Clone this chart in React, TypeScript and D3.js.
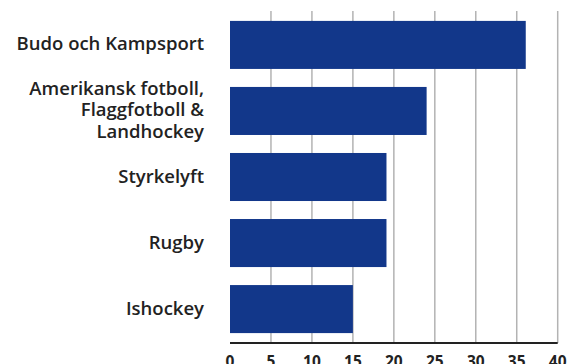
import React from "react";
import * as d3 from "d3";

const categories: string[][] = [
  ["Budo och Kampsport"],
  ["Amerikansk fotboll,", "Flaggfotboll &", "Landhockey"],
  ["Styrkelyft"],
  ["Rugby"],
  ["Ishockey"],
];
const values: number[] = [36.1, 24.0, 19.1, 19.1, 15.0];
const tickValues: number[] = [0, 5, 10, 15, 20, 25, 30, 35, 40];

const W = 581;
const H = 364;
const FONT = "'Open Sans', 'DejaVu Sans', sans-serif";

export default function App() {
  const x = d3.scaleLinear().domain([0, 40]).range([230, 557.7]);
  const keys = categories.map((_, i) => String(i));
  const y = d3
    .scaleBand<string>()
    .domain(keys)
    .range([11, 343])
    .paddingInner(18 / 66)
    .paddingOuter(0.15);

  return (
    <svg
      width={W}
      height={H}
      style={{ position: "absolute", left: 0, top: 0, background: "#fff" }}
      fontFamily={FONT}
    >
      {/* vertical gridlines */}
      {tickValues
        .filter((t) => t > 0)
        .map((t) => (
          <line
            key={"g" + t}
            x1={x(t)}
            x2={x(t)}
            y1={11}
            y2={343}
            stroke="#b3b3b3"
            strokeWidth={1.5}
          />
        ))}
      {/* bars */}
      {values.map((v, i) => (
        <rect
          key={"b" + i}
          x={x(0)}
          y={y(keys[i])!}
          width={x(v) - x(0)}
          height={y.bandwidth()}
          fill="#12378A"
        />
      ))}
      {/* category labels, one text per line */}
      {categories.map((lines, i) => {
        const cy = y(keys[i])! + y.bandwidth() / 2;
        const lh = 21.5;
        const first = cy - ((lines.length - 1) * lh) / 2;
        return lines.map((ln, j) => (
          <text
            key={"l" + i + "-" + j}
            x={204}
            y={first + j * lh + 5.5}
            textAnchor="end"
            fontSize={18.5}
            fontWeight={600}
            fill="#222"
          >
            {ln}
          </text>
        ));
      })}
      {/* x axis */}
      <line x1={x(0)} x2={x(40)} y1={343} y2={343} stroke="#222" strokeWidth={2} />
      {tickValues.map((t) => (
        <text
          key={"t" + t}
          x={x(t)}
          y={367}
          textAnchor="middle"
          fontSize={15.5}
          fontWeight={700}
          fill="#222"
        >
          {t}
        </text>
      ))}
    </svg>
  );
}
